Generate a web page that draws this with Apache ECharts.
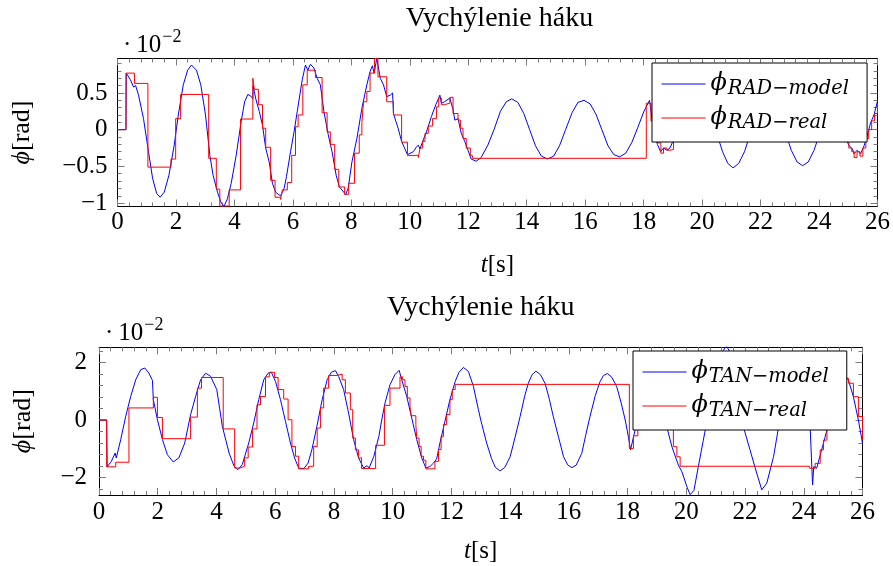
<!DOCTYPE html>
<html><head><meta charset="utf-8">
<script src="https://cdn.jsdelivr.net/npm/echarts@6/dist/echarts.min.js"></script>
<style>html,body{margin:0;padding:0;background:#fff}#c{width:893px;height:566px}</style>
</head><body><div id="c"></div>
<script>
// ---------- data (values in units of 1e-2 rad, time in s) ----------
const chartTitle = 'Vychýlenie háku';
const xTickStep = 2;
const xMax = 26;
const radYRange = [-1.046, 0.969];
const radYMajor = [-1, -0.5, 0, 0.5];
const radYMinor = [-0.9, -0.8, -0.7, -0.6, -0.4, -0.3, -0.2, -0.1, 0.1, 0.2, 0.3, 0.4, 0.6, 0.7, 0.8, 0.9];
const tanYRange = [-2.61, 2.53];
const tanYMajor = [-2, 0, 2];
const tanYMinor = [-2.4, -1.6, -1.2, -0.8, -0.4, 0.4, 0.8, 1.2, 1.6, 2.4];
const seriesNames = ['RAD−model', 'RAD−real', 'TAN−model', 'TAN−real'];

const radModel = [[0,0],[0.29,0],[0.30,0.77],[0.44,0.68],[0.55,0.58],[0.58,0.56],[0.62,0.60],[0.72,0.47],[0.89,0.15],[1.06,-0.30],[1.2,-0.66],[1.34,-0.87],[1.46,-0.92],[1.6,-0.85],[1.76,-0.62],[1.94,-0.21],[2.08,0.20],[2.25,0.61],[2.4,0.81],[2.53,0.88],[2.7,0.81],[2.85,0.61],[3.01,0.20],[3.16,-0.35],[3.27,-0.62],[3.42,-0.85],[3.55,-1.0],[3.65,-1.04],[3.76,-0.94],[3.89,-0.73],[4.06,-0.35],[4.23,0.11],[4.35,0.38],[4.46,0.48],[4.58,0.45],[4.63,0.42],[4.64,0.60],[4.68,0.52],[4.73,0.42],[4.85,0.25],[4.96,0.06],[5.07,-0.25],[5.19,-0.44],[5.3,-0.73],[5.41,-0.85],[5.5,-0.88],[5.58,-0.90],[5.63,-0.86],[5.7,-0.80],[5.78,-0.64],[5.92,-0.30],[6.04,-0.03],[6.15,0.25],[6.32,0.68],[6.43,0.88],[6.51,0.81],[6.6,0.89],[6.72,0.84],[6.83,0.70],[6.94,0.61],[7.06,0.25],[7.21,-0.07],[7.34,-0.30],[7.48,-0.62],[7.59,-0.78],[7.74,-0.85],[7.8,-0.89],[7.89,-0.80],[8.02,-0.44],[8.19,-0.12],[8.36,0.29],[8.53,0.61],[8.64,0.79],[8.72,0.87],[8.78,0.77],[8.87,0.97],[8.99,0.70],[9.1,0.61],[9.21,0.45],[9.33,0.47],[9.41,0.50],[9.44,0.22],[9.6,0.02],[9.72,-0.16],[9.92,-0.34],[10.12,-0.30],[10.22,-0.24],[10.29,-0.21],[10.35,-0.26],[10.44,-0.16],[10.57,-0.03],[10.74,0.18],[10.89,0.34],[11.03,0.47],[11.08,0.36],[11.19,0.38],[11.37,0.43],[11.48,0.27],[11.54,0.13],[11.65,0.15],[11.76,-0.05],[11.88,-0.16],[11.99,-0.28],[12.1,-0.40],[12.27,-0.43],[12.44,-0.38],[12.67,-0.21],[12.88,0.0],[13.1,0.25],[13.3,0.38],[13.49,0.42],[13.7,0.37],[13.9,0.22],[14.1,0.0],[14.3,-0.22],[14.5,-0.36],[14.71,-0.40],[14.92,-0.36],[15.12,-0.22],[15.33,0.0],[15.55,0.23],[15.75,0.37],[15.96,0.40],[16.17,0.35],[16.37,0.21],[16.57,0.0],[16.78,-0.22],[16.98,-0.34],[17.18,-0.37],[17.39,-0.32],[17.6,-0.17],[17.8,0.03],[18.0,0.24],[18.1,0.32],[18.2,0.40],[18.3,0.10],[18.39,-0.09],[18.47,-0.20],[18.58,-0.30],[18.68,-0.25],[18.8,-0.28],[18.9,-0.25],[19.02,-0.14],[19.2,0.05],[19.4,0.28],[19.6,0.43],[19.87,0.50],[20.1,0.42],[20.3,0.22],[20.5,-0.05],[20.7,-0.30],[20.88,-0.46],[21.06,-0.52],[21.25,-0.46],[21.45,-0.30],[21.65,-0.05],[21.85,0.22],[22.05,0.42],[22.25,0.50],[22.45,0.42],[22.65,0.22],[22.85,-0.04],[23.05,-0.28],[23.25,-0.44],[23.44,-0.49],[23.63,-0.44],[23.83,-0.28],[24.03,-0.04],[24.23,0.22],[24.43,0.42],[24.62,0.48],[24.8,0.40],[24.9,0.10],[24.94,-0.14],[25.03,-0.22],[25.14,-0.26],[25.2,-0.33],[25.3,-0.28],[25.42,-0.33],[25.54,-0.22],[25.65,-0.08],[25.76,0.09],[25.88,0.20],[26.0,0.39]];

const radReal = [[0,0],[0.29,0.77],[0.58,0.63],[1.04,-0.51],[1.83,-0.40],[1.99,0.15],[2.16,0.48],[3.12,-0.39],[3.38,-0.81],[3.5,-1.04],[3.82,-0.82],[4.21,0.145],[4.63,0.70],[4.68,0.55],[4.82,0.34],[4.96,0.02],[5.07,-0.24],[5.24,-0.69],[5.39,-0.92],[5.58,-0.95],[5.64,-0.82],[5.81,-0.72],[5.96,-0.35],[6.09,0.04],[6.18,0.20],[6.34,0.61],[6.49,0.81],[6.77,0.71],[7.0,0.23],[7.17,-0.03],[7.28,-0.20],[7.43,-0.54],[7.57,-0.78],[7.77,-0.88],[7.91,-0.73],[8.11,-0.32],[8.27,-0.07],[8.36,0.10],[8.42,0.38],[8.53,0.52],[8.64,0.77],[8.79,0.97],[8.91,0.72],[9.21,0.38],[9.44,0.20],[9.72,-0.17],[9.92,-0.35],[10.29,-0.38],[10.35,-0.25],[10.44,-0.16],[10.52,-0.05],[10.63,0.05],[10.78,0.15],[10.91,0.31],[10.99,0.43],[11.08,0.34],[11.18,0.36],[11.37,0.44],[11.48,0.22],[11.65,0.13],[11.73,0.02],[11.82,-0.12],[11.93,-0.25],[12.07,-0.35],[12.14,-0.39],[18.09,0.36],[18.25,0.12],[18.39,-0.09],[18.47,-0.18],[18.59,-0.32],[18.68,-0.25],[18.8,-0.28],[18.9,-0.27],[19.02,-0.14],[19.13,0.20],[24.92,-0.14],[25.02,-0.25],[25.12,-0.30],[25.2,-0.38],[25.3,-0.30],[25.4,-0.36],[25.5,-0.25],[25.6,-0.12],[25.7,0.0],[25.8,0.12],[25.9,0.22],[26,0.36]];

const tanModel = [[0,0],[0.26,0],[0.28,-1.63],[0.42,-1.44],[0.55,-1.15],[0.59,-1.32],[0.74,-0.68],[0.91,0.13],[1.08,0.82],[1.25,1.40],[1.42,1.75],[1.56,1.81],[1.70,1.63],[1.82,1.38],[1.85,0.71],[1.99,0.01],[2.16,-0.68],[2.33,-1.21],[2.53,-1.46],[2.72,-1.32],[2.92,-0.80],[3.12,0.19],[3.29,0.82],[3.46,1.40],[3.63,1.63],[3.80,1.52],[4.01,1.06],[4.20,-0.22],[4.43,-1.15],[4.60,-1.61],[4.73,-1.73],[4.88,-1.55],[5.1,-0.80],[5.27,-0.10],[5.44,0.71],[5.61,1.40],[5.76,1.63],[5.87,1.66],[6.01,1.34],[6.18,0.71],[6.35,-0.05],[6.52,-0.80],[6.66,-1.32],[6.80,-1.67],[6.97,-1.70],[7.12,-1.50],[7.25,-1.03],[7.42,-0.22],[7.60,0.71],[7.77,1.40],[7.91,1.66],[8.05,1.72],[8.16,1.52],[8.33,1.06],[8.50,0.24],[8.67,-0.68],[8.84,-1.32],[9.01,-1.67],[9.13,-1.59],[9.2,-1.67],[9.36,-1.26],[9.53,-0.57],[9.64,0.07],[9.74,0.59],[9.91,1.23],[10.08,1.58],[10.22,1.73],[10.31,1.40],[10.48,0.82],[10.65,0.07],[10.82,-0.68],[10.99,-1.32],[11.13,-1.67],[11.27,-1.62],[11.39,-1.50],[11.5,-1.35],[11.61,-0.80],[11.78,-0.05],[11.95,0.71],[12.13,1.34],[12.26,1.66],[12.41,1.83],[12.58,1.69],[12.75,1.17],[12.92,0.36],[13.0,0.0],[13.2,-0.80],[13.37,-1.35],[13.5,-1.65],[13.66,-1.77],[13.82,-1.65],[14.0,-1.28],[14.17,-0.60],[14.34,0.12],[14.5,0.85],[14.62,1.28],[14.75,1.58],[14.88,1.70],[15.03,1.58],[15.19,1.28],[15.33,0.75],[15.47,0.12],[15.65,-0.60],[15.82,-1.28],[15.96,-1.56],[16.1,-1.66],[16.25,-1.57],[16.44,-1.16],[16.58,-0.50],[16.72,0.12],[16.9,0.85],[17.06,1.33],[17.18,1.55],[17.31,1.62],[17.47,1.48],[17.63,1.16],[17.78,0.60],[17.92,0.0],[18.03,-0.60],[18.1,-1.04],[18.2,-0.60],[18.4,0.30],[18.6,0.80],[18.8,0.90],[19.0,0.60],[19.2,0.20],[19.34,-0.26],[19.51,-0.93],[19.73,-1.57],[19.85,-1.80],[20.02,-2.32],[20.13,-2.60],[20.18,-2.66],[20.26,-2.45],[20.41,-1.62],[20.58,-0.70],[20.75,0.20],[20.92,1.10],[21.08,1.85],[21.22,2.35],[21.36,2.58],[21.5,2.35],[21.65,1.80],[21.8,0.80],[21.95,-0.26],[22.17,-1.04],[22.4,-1.86],[22.57,-2.43],[22.74,-2.20],[22.97,-1.28],[23.14,-0.26],[23.3,0.80],[23.5,1.80],[23.72,2.30],[23.9,1.90],[24.05,1.30],[24.17,0.90],[24.3,-2.26],[24.34,-1.62],[24.44,-1.68],[24.56,-1.22],[24.67,-0.81],[24.79,-0.35],[24.95,0.50],[25.1,1.20],[25.25,1.60],[25.38,1.60],[25.52,1.39],[25.69,0.81],[25.86,0.0],[26,-0.81]];

const tanReal = [[0,0],[0.26,-1.63],[0.57,-1.47],[1.02,0.42],[1.85,0.79],[1.99,0.09],[2.16,-0.65],[3.12,0.10],[3.35,1.11],[3.49,1.48],[4.23,-0.31],[4.62,-1.67],[4.81,-1.61],[4.96,-1.32],[5.08,-0.94],[5.23,-0.31],[5.38,0.53],[5.50,0.82],[5.67,1.50],[5.80,1.66],[5.98,1.48],[6.10,1.06],[6.29,0.73],[6.44,0.01],[6.57,-0.92],[6.69,-1.26],[6.80,-1.70],[7.14,-1.61],[7.31,-0.92],[7.43,-0.28],[7.54,0.42],[7.65,1.11],[7.82,1.55],[8.11,1.60],[8.28,1.40],[8.39,0.94],[8.56,0.36],[8.64,-0.63],[8.73,-1.04],[8.84,-1.32],[8.94,-1.69],[9.42,-0.88],[9.72,0.51],[9.91,1.11],[10.25,1.50],[10.34,1.40],[10.42,1.17],[10.50,0.77],[10.59,0.48],[10.63,0.15],[10.79,-0.16],[10.82,-0.63],[10.90,-0.92],[10.97,-1.26],[11.05,-1.40],[11.13,-1.70],[11.44,-1.44],[11.56,-1.03],[11.65,-0.57],[11.73,-0.16],[11.84,0.19],[11.95,0.71],[12.03,1.06],[12.13,1.24],[18.06,-0.99],[18.2,-0.55],[18.35,-0.10],[18.5,0.40],[18.65,0.80],[18.85,0.85],[19.05,0.50],[19.25,0.0],[19.4,-0.30],[19.56,-0.93],[19.68,-1.28],[19.79,-1.61],[24.2,-1.68],[24.39,-1.51],[24.56,-1.04],[24.67,-0.70],[24.79,-0.26],[24.95,0.40],[25.1,1.00],[25.25,1.40],[25.4,1.45],[25.52,1.28],[25.69,0.81],[25.86,0.12],[26,-0.70]];

// ---------- styling ----------
const SERIF = "'Liberation Serif', 'DejaVu Serif', serif";
const ITAL = "'DejaVu Serif', serif";
const BLUE = '#0000ff', RED = '#ff0000';
const tickColor = '#7a7a7a';
const minus = v => String(v).replace('-', '\u2212');

const grids = [
  { left: 117.5, top: 58.5, width: 764, height: 148 },
  { left: 99, top: 347.3, width: 763.5, height: 147.7 }
];

function xAxes(gi, labelMargin, nameGap) {
  const base = {
    gridIndex: gi, type: 'value', min: 0, max: xMax, interval: xTickStep,
    axisLine: { show: true, onZero: false, lineStyle: { color: '#000', width: 1 } },
    axisTick: { show: true, inside: true, length: 7, lineStyle: { color: tickColor } },
    minorTick: { show: true, splitNumber: 5, length: 4, lineStyle: { color: tickColor } },
    splitLine: { show: false }, minorSplitLine: { show: false }
  };
  return [
    Object.assign({}, base, {
      position: 'bottom',
      axisLabel: { margin: labelMargin, fontFamily: SERIF, fontSize: 25, color: '#000' },
      name: '{i|t}[s]', nameLocation: 'middle', nameGap: nameGap,
      nameTextStyle: { fontFamily: SERIF, fontSize: 25, color: '#000',
        rich: { i: { fontFamily: SERIF, fontStyle: 'italic', fontSize: 25, color: '#000' } } }
    }),
    Object.assign({}, base, { position: 'top', axisLabel: { show: false } })
  ];
}

function yAxes(gi, range, major, minor, labelMargin, nameGap) {
  const common = { gridIndex: gi, type: 'value', min: range[0], max: range[1], splitLine: { show: false } };
  return [
    Object.assign({}, common, {
      position: 'left',
      axisLine: { show: true, onZero: false, lineStyle: { color: '#000', width: 1 } },
      axisTick: { show: true, inside: true, length: 7, customValues: major, lineStyle: { color: tickColor } },
      axisLabel: { customValues: major, formatter: minus, margin: labelMargin, fontFamily: SERIF, fontSize: 25, color: '#000' },
      name: '{i|ϕ}[rad]', nameLocation: 'middle', nameGap: nameGap,
      nameTextStyle: { fontFamily: SERIF, fontSize: 26, color: '#000',
        rich: { i: { fontFamily: SERIF, fontStyle: 'italic', fontSize: 26, color: '#000' } } }
    }),
    Object.assign({}, common, {
      position: 'left', axisLine: { show: false, onZero: false },
      axisTick: { show: true, inside: true, length: 4, customValues: minor, lineStyle: { color: tickColor } },
      axisLabel: { show: false }
    }),
    Object.assign({}, common, {
      position: 'right',
      axisLine: { show: true, onZero: false, lineStyle: { color: '#000', width: 1 } },
      axisTick: { show: true, inside: true, length: 7, customValues: major, lineStyle: { color: tickColor } },
      axisLabel: { show: false }
    }),
    Object.assign({}, common, {
      position: 'right', axisLine: { show: false, onZero: false },
      axisTick: { show: true, inside: true, length: 4, customValues: minor, lineStyle: { color: tickColor } },
      axisLabel: { show: false }
    })
  ];
}

function legendCfg(names, left, top) {
  return {
    data: names, orient: 'vertical', left: left, top: top,
    padding: [6, 18, 9, 9], itemGap: 4, itemWidth: 44, itemHeight: 14,
    borderColor: '#000', borderWidth: 1, backgroundColor: '#fff', borderRadius: 0,
    selectedMode: false,
    itemStyle: { opacity: 0, borderWidth: 0 },
    lineStyle: { width: 1 },
    formatter: n => '{phi|ϕ}{sub|' + n + '}',
    textStyle: {
      color: '#000', fontFamily: ITAL, fontSize: 19,
      rich: {
        phi: { fontFamily: ITAL, fontStyle: 'italic', fontSize: 24, lineHeight: 30, color: '#000' },
        sub: { fontFamily: ITAL, fontStyle: 'italic', fontSize: 19.5, lineHeight: 20, padding: [10, 0, 0, 1], color: '#000' }
      }
    }
  };
}

function line(name, data, xi, yi, color, step) {
  const s = {
    name: name, type: 'line', data: data, xAxisIndex: xi, yAxisIndex: yi,
    symbol: 'none', showSymbol: false, animation: false, clip: true,
    lineStyle: { color: color, width: 1 }, itemStyle: { color: color }
  };
  if (step) s.step = 'end';
  return s;
}

function sciLabel(x, y) {
  return {
    type: 'text', x: x, y: y,
    style: {
      text: '{d|·}{a|10}{b|\u22122}', fill: '#000',
      rich: {
        d: { fontFamily: SERIF, fontSize: 25, lineHeight: 25, padding: [0, 5, 0, 0], fill: '#000' },
        a: { fontFamily: SERIF, fontSize: 25, lineHeight: 25, fill: '#000' },
        b: { fontFamily: SERIF, fontSize: 18, lineHeight: 18, padding: [0, 0, 16, 1], fill: '#000' }
      }
    }
  };
}

const chart = echarts.init(document.getElementById('c'), null, { renderer: 'canvas' });
chart.setOption({
  backgroundColor: '#fff',
  animation: false,
  title: [
    { text: chartTitle, left: 499.5, top: 5, textAlign: 'center', padding: 0,
      textStyle: { fontFamily: SERIF, fontSize: 28, fontWeight: 'normal', color: '#000' } },
    { text: chartTitle, left: 480.8, top: 294, textAlign: 'center', padding: 0,
      textStyle: { fontFamily: SERIF, fontSize: 28, fontWeight: 'normal', color: '#000' } }
  ],
  grid: grids.map(g => Object.assign({ containLabel: false, show: false }, g)),
  xAxis: [].concat(xAxes(0, 3, 46), xAxes(1, 5, 44)),
  yAxis: [].concat(yAxes(0, radYRange, radYMajor, radYMinor, 10, 82),
                   yAxes(1, tanYRange, tanYMajor, tanYMinor, 12, 63)),
  legend: [legendCfg([seriesNames[0], seriesNames[1]], 652, 63),
           legendCfg([seriesNames[2], seriesNames[3]], 633, 351)],
  graphic: [sciLabel(123, 33), sciLabel(105, 321)],
  series: [
    line(seriesNames[0], radModel, 0, 0, BLUE, false),
    line(seriesNames[1], radReal, 0, 0, RED, true),
    line(seriesNames[2], tanModel, 2, 4, BLUE, false),
    line(seriesNames[3], tanReal, 2, 4, RED, true)
  ]
});
</script></body></html>
